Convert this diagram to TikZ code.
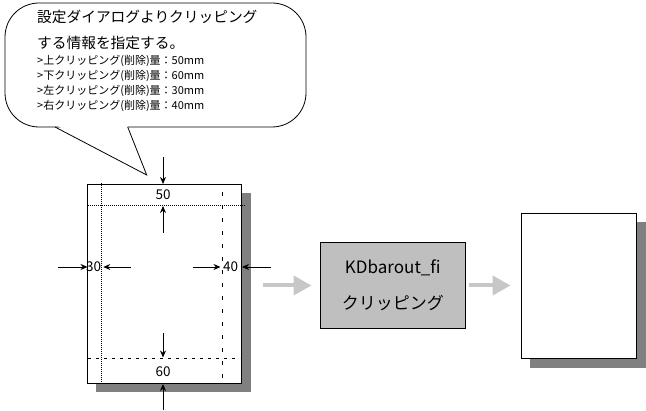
\documentclass[tikz,border=0pt]{standalone}
\usepackage{fontspec}
\setmainfont{Noto Sans CJK JP}
\usetikzlibrary{arrows.meta,shadows}

\begin{document}
\begin{tikzpicture}[x=1pt,y=-1pt,
        page/.style={draw,fill=white,line width=0.8pt,
          general shadow={shadow xshift=9pt,shadow yshift=-9pt,fill=black!50}},
        proc/.style={draw,fill=black!25,line width=0.8pt,align=center,
          font=\fontsize{17}{36}\selectfont},
        dim arrow/.style={line width=0.8pt,-{Stealth[length=7pt,width=6pt]}},
        fat arrow/.style={draw=black!22,line width=4pt,-{Triangle[length=18pt,width=19pt]}},
        big text/.style={anchor=west,inner sep=0pt,font=\fontsize{14.7}{16}\selectfont},
        small text/.style={anchor=west,inner sep=0pt,font=\fontsize{11}{13}\selectfont},
        dim label/.style={inner sep=0pt,font=\fontsize{13.5}{14}\selectfont},
      ]
      \useasboundingbox (0,0) rectangle (646,411);
      % callout
      \node[draw,line width=0.8pt,rounded corners=34,minimum width=301,minimum height=124] (bubble) at (155.5,65) {};
      \fill[white] (56,125) -- (127,125) -- (146.7,175) -- cycle;
      \coordinate (tip) at (146.7,175);
      \draw[line width=0.8pt] (55,127) -- (tip) -- (127.7,127);
      \node[big text] (l1) at (37,17) {設定ダイアログよりクリッピング};
      \node[big text] (l2) at (37,43) {する情報を指定する。};
      \node[small text] (l3) at (37,61) {>上クリッピング(削除)量：50mm};
      \node[small text] (l4) at (37,76) {>下クリッピング(削除)量：60mm};
      \node[small text] (l5) at (37,91) {>左クリッピング(削除)量：30mm};
      \node[small text] (l6) at (37,106) {>右クリッピング(削除)量：40mm};
      % source page
      \node[page,minimum width=154.4,minimum height=199.3] (page) at (164.5,283.7) {};
      \draw[line width=0.8pt,dash pattern=on 1pt off 1pt] (88,205) -- (246,205);
      \draw[line width=0.8pt,dash pattern=on 3pt off 5pt] (88,358.3) -- (240,358.3);
      \draw[line width=0.8pt,dash pattern=on 1pt off 1pt] (101.3,183) -- (101.3,383);
      \draw[line width=0.8pt,dash pattern=on 4pt off 9pt] (222,192) -- (222,380);
      \node[dim label] (top) at (163,195) {50};
      \node[dim label] (bottom) at (163,371.5) {60};
      \node[dim label] (left) at (93.5,267) {30};
      \node[dim label] (right) at (230.5,267) {40};
      \coordinate (t1) at (163,157);  \coordinate (t2) at (163,184);
      \coordinate (t3) at (163,233);  \coordinate (t4) at (163,206);
      \coordinate (b1) at (163,333);  \coordinate (b2) at (163,357.5);
      \coordinate (b3) at (163,410);  \coordinate (b4) at (163,384);
      \coordinate (w1) at (58,267);   \coordinate (w2) at (87.5,267);
      \coordinate (w3) at (131,267);  \coordinate (w4) at (103.3,267);
      \coordinate (e1) at (193,267);  \coordinate (e2) at (220.5,267);
      \coordinate (e3) at (271,267);  \coordinate (e4) at (242,267);
      \draw[dim arrow] (t1) -- (t2);
      \draw[dim arrow] (t3) -- (t4);
      \draw[dim arrow] (b1) -- (b2);
      \draw[dim arrow] (b3) -- (b4);
      \draw[dim arrow] (w1) -- (w2);
      \draw[dim arrow] (w3) -- (w4);
      \draw[dim arrow] (e1) -- (e2);
      \draw[dim arrow] (e3) -- (e4);
      % process and result
      \node[proc,minimum width=145.7,minimum height=85.6] (clip) at (392.8,285.5)
        {KDbarout\_fi\\クリッピング};
      \node[page,minimum width=115.7,minimum height=145,
        general shadow={shadow xshift=9.5pt,shadow yshift=-10pt,fill=black!50}] (result) at (578.8,285.8) {};
      \draw[fat arrow] ([xshift=21pt]clip.west -| page.east) -- ([xshift=-8pt]clip.west);
      \draw[fat arrow] ([xshift=2.5pt]clip.east) -- ([xshift=-10pt]clip.east -| result.west);
    \end{tikzpicture}
\end{document}
